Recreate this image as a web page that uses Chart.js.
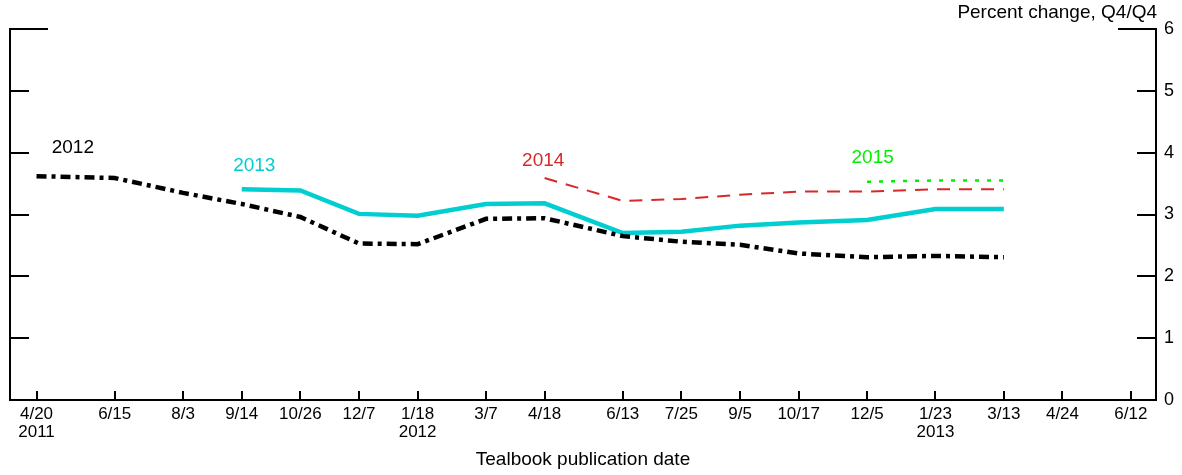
<!DOCTYPE html>
<html>
<head>
<meta charset="utf-8">
<script src="https://cdn.jsdelivr.net/npm/chart.js@4.4.1/dist/chart.umd.min.js"></script>
<style>
  html, body { margin: 0; padding: 0; background: #fff; }
  #wrap { width: 1182px; height: 475px; }
</style>
</head>
<body>
<div id="wrap"><canvas id="lineChart" width="1182" height="475"></canvas></div>
<script>
const FONT = '"Liberation Sans", Arial, Helvetica, sans-serif';

// Tealbook publication dates, one per x tick
const pubDates = [
    '2011-04-20', '2011-06-15', '2011-08-03', '2011-09-14', '2011-10-26', '2011-12-07',
    '2012-01-18', '2012-03-07', '2012-04-18', '2012-06-13', '2012-07-25', '2012-09-05',
    '2012-10-17', '2012-12-05', '2013-01-23', '2013-03-13', '2013-04-24', '2013-06-12'
];
const tickLabels = [
    ['4/20', '2011'], '6/15', '8/3', '9/14', '10/26', '12/7',
    ['1/18', '2012'], '3/7', '4/18', '6/13', '7/25', '9/5',
    '10/17', '12/5', ['1/23', '2013'], '3/13', '4/24', '6/12'
];
const axisStart = '2011-04-01';
const axisEnd = '2013-06-30';
const yTicks = [0, 1, 2, 3, 4, 5, 6];

// forecasts for each year, by publication date (null = not yet forecast)
const years = ['2012', '2013', '2014', '2015'];
const values2012 = [3.62, 3.59, 3.35, 3.17, 2.96, 2.53, 2.52, 2.93, 2.94, 2.65, 2.56, 2.51, 2.37, 2.31, 2.33, 2.31];
const values2013 = [null, null, null, 3.41, 3.39, 3.01, 2.98, 3.17, 3.18, 2.70, 2.72, 2.82, 2.87, 2.91, 3.09, 3.09];
const values2014 = [null, null, null, null, null, null, null, null, 3.59, 3.22, 3.25, 3.32, 3.37, 3.37, 3.41, 3.41];
const values2015 = [null, null, null, null, null, null, null, null, null, null, null, null, null, 3.53, 3.55, 3.55];

const base = Date.UTC(2011, 3, 20);
function dayOf(s) {
    const [y, m, d] = s.split('-').map(Number);
    return (Date.UTC(y, m - 1, d) - base) / 86400000;
}
function toPoints(vals) {
    return vals.map((v, i) => ({ x: dayOf(pubDates[i]), y: v })).filter(p => p.y !== null);
}

const styles = [
    { color: '#000000', width: 4.5, dash: [10, 5, 4, 5] },
    { color: '#00ced1', width: 4.5, dash: [] },
    { color: '#d62a2a', width: 2, dash: [13, 9] },
    { color: '#00ee00', width: 2.5, dash: [4, 8] }
];
// where each year's name sits (date, value)
const seriesLabels = [
    { date: '2011-05-16', value: 3.99 },
    { date: '2011-09-23', value: 3.71 },
    { date: '2012-04-17', value: 3.78 },
    { date: '2012-12-09', value: 3.84 }
];

const allValues = [values2012, values2013, values2014, values2015];

const extras = {
    id: 'extras',
    afterDraw(chart) {
        const { ctx, chartArea: a, scales } = chart;
        const yS = scales.y, xS = scales.x;
        ctx.save();
        ctx.strokeStyle = '#000';
        ctx.lineWidth = 2;
        ctx.beginPath();
        yS.ticks.forEach(t => {
            if (t.value === 0) return;
            const y = Math.round(yS.getPixelForValue(t.value));
            const len = t.value === yS.max ? 38 : 19;
            ctx.moveTo(a.left, y); ctx.lineTo(a.left + len, y);
            ctx.moveTo(a.right, y); ctx.lineTo(a.right - len, y);
        });
        xS.ticks.forEach(t => {
            const x = Math.round(xS.getPixelForValue(t.value));
            ctx.moveTo(x, a.bottom); ctx.lineTo(x, a.bottom - 9);
        });
        ctx.stroke();

        ctx.font = '19px ' + FONT;
        ctx.fillStyle = '#000';
        ctx.textAlign = 'right';
        ctx.textBaseline = 'alphabetic';
        ctx.fillText('Percent change, Q4/Q4', a.right + 1, a.top - 11);

        ctx.textAlign = 'center';
        seriesLabels.forEach((l, i) => {
            ctx.fillStyle = styles[i].color;
            ctx.fillText(years[i], xS.getPixelForValue(dayOf(l.date)), yS.getPixelForValue(l.value));
        });
        ctx.restore();
    }
};

const ctx = document.getElementById('lineChart').getContext('2d');
const chart = new Chart(ctx, {
    type: 'line',
    data: {
        datasets: allValues.map((vals, i) => ({
            label: years[i],
            data: toPoints(vals),
            borderColor: styles[i].color,
            borderWidth: styles[i].width,
            borderDash: styles[i].dash,
            borderCapStyle: 'butt',
            pointRadius: 0,
            tension: 0,
            fill: false
        }))
    },
    options: {
        responsive: false,
        animation: false,
        layout: { padding: { left: 10, top: 29, right: 0, bottom: 0 } },
        plugins: {
            legend: { display: false },
            tooltip: { enabled: false }
        },
        scales: {
            x: {
                type: 'linear',
                min: dayOf(axisStart),
                max: dayOf(axisEnd),
                afterBuildTicks: s => { s.ticks = pubDates.map(d => ({ value: dayOf(d) })); },
                afterFit: s => { s.height = 75; },
                grid: { display: false, drawTicks: false },
                border: { display: true, color: '#000', width: 2 },
                ticks: {
                    autoSkip: false,
                    maxRotation: 0,
                    padding: 5,
                    color: '#000',
                    font: { family: FONT, size: 17, lineHeight: 1.08 },
                    callback: (v, i) => tickLabels[i]
                },
                title: {
                    display: true,
                    text: 'Tealbook publication date',
                    color: '#000',
                    font: { family: FONT, size: 19 },
                    padding: { top: 0, bottom: 4 }
                }
            },
            yLeft: {
                position: 'left',
                min: 0,
                max: 6,
                afterFit: s => { s.width = 0; },
                grid: { display: false, drawTicks: false },
                border: { display: true, color: '#000', width: 2 },
                ticks: { display: false }
            },
            y: {
                position: 'right',
                min: 0,
                max: 6,
                afterBuildTicks: s => { s.ticks = yTicks.map(v => ({ value: v })); },
                afterFit: s => { s.width = 26; },
                grid: { display: false, drawTicks: false },
                border: { display: true, color: '#000', width: 2 },
                ticks: {
                    padding: 8,
                    color: '#000',
                    font: { family: FONT, size: 18 }
                }
            }
        }
    },
    plugins: [extras]
});
</script>
</body>
</html>
